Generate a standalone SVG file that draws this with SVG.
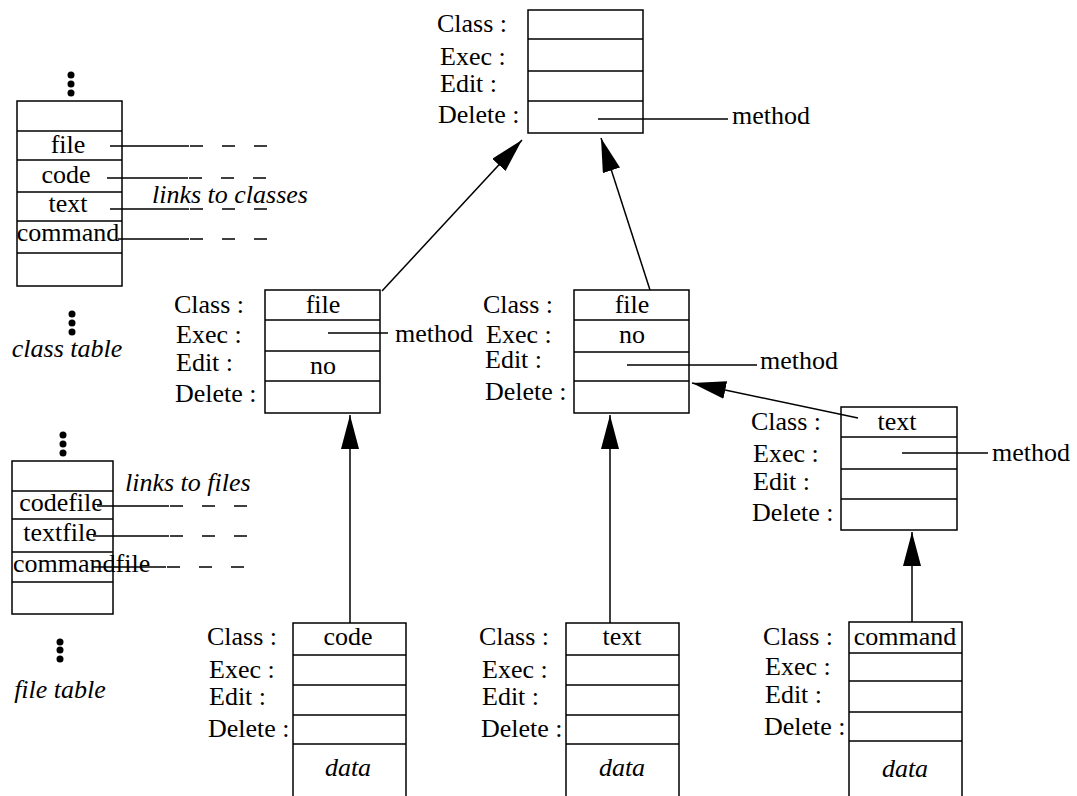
<svg xmlns="http://www.w3.org/2000/svg" width="1077" height="796" viewBox="0 0 1077 796" font-family="'Liberation Serif', 'Times New Roman', serif">
<style>
text{font-family:'Liberation Serif','Times New Roman',serif;font-size:26px;fill:#000}
.it{font-style:italic}
.c{text-anchor:middle}
.box{fill:none;stroke:#000;stroke-width:1.5}
.ln{stroke:#000;stroke-width:1.5;fill:none}
.dash{stroke:#000;stroke-width:1.5;stroke-dasharray:13 19}
.dot{fill:#000}
</style>
<defs>
<marker id="ah" viewBox="0 0 34 18" refX="34" refY="9" markerWidth="34" markerHeight="18" markerUnits="userSpaceOnUse" orient="auto">
<path d="M0,0 L34,9 L0,18 z" fill="#000"/>
</marker>
</defs>
<rect width="1077" height="796" fill="#fff"/>

<g id="class-table">
<circle class="dot" cx="71" cy="75" r="3.5"/><circle class="dot" cx="71" cy="84" r="3.5"/><circle class="dot" cx="71" cy="93" r="3.5"/>
<rect class="box" x="17" y="101" width="105" height="185"/>
<path class="ln" d="M17,131H122M17,160H122M17,192H122M17,221H122M17,253H122"/>
<text class="c" x="68" y="153">file</text>
<text class="c" x="66" y="183">code</text>
<text class="c" x="68" y="212">text</text>
<text class="c" x="68" y="241">command</text>
<circle class="dot" cx="72" cy="314" r="3.5"/><circle class="dot" cx="72" cy="323" r="3.5"/><circle class="dot" cx="72" cy="332" r="3.5"/>
<text class="it c" x="67" y="357">class table</text>
<text class="it" x="152" y="203">links to classes</text>
<path class="ln" d="M110,146H189M107,178H188M110,209H189M118,239H189"/>
<path class="dash" d="M190,146H270M189,178H269M190,209H270M190,239H270"/>
</g>

<g id="file-table">
<circle class="dot" cx="63" cy="435" r="3.5"/><circle class="dot" cx="63" cy="444" r="3.5"/><circle class="dot" cx="63" cy="453" r="3.5"/>
<rect class="box" x="12" y="461" width="101" height="153"/>
<path class="ln" d="M12,491H113M12,519H113M12,552H113M12,582H113"/>
<text class="c" x="61" y="511">codefile</text>
<text class="c" x="60" y="541">textfile</text>
<text x="13" y="572">commandfile</text>
<circle class="dot" cx="60" cy="642" r="3.5"/><circle class="dot" cx="60" cy="650" r="3.5"/><circle class="dot" cx="60" cy="659" r="3.5"/>
<text class="it c" x="60" y="698">file table</text>
<text class="it" x="125" y="491">links to files</text>
<path class="ln" d="M97,506H169M93,536H169M93,567H166"/>
<path class="dash" d="M170,506H250M170,536H250M167,567H250"/>
</g>

<g id="class-top">
<rect class="box" x="528" y="10" width="115" height="123"/>
<path class="ln" d="M528,39H643M528,71H643M528,101H643"/>
<text x="437" y="32">Class :</text>
<text x="440" y="65">Exec :</text>
<text x="440" y="92">Edit :</text>
<text x="438" y="123">Delete :</text>
<path class="ln" d="M598,119H728"/>
<text x="732" y="124">method</text>
</g>

<g id="class-file-left">
<rect class="box" x="265" y="290" width="115" height="123"/>
<path class="ln" d="M265,320H380M265,351H380M265,381H380"/>
<text x="174" y="313">Class :</text>
<text x="176" y="343">Exec :</text>
<text x="176" y="371">Edit :</text>
<text x="175" y="402">Delete :</text>
<text class="c" x="323" y="313">file</text>
<text class="c" x="323" y="374">no</text>
<path class="ln" d="M328,333H388"/>
<text x="395" y="342">method</text>
</g>

<g id="class-file-mid">
<rect class="box" x="574" y="290" width="115" height="123"/>
<path class="ln" d="M574,320H689M574,352H689M574,381H689"/>
<text x="483" y="313">Class :</text>
<text x="486" y="343">Exec :</text>
<text x="485" y="368">Edit :</text>
<text x="485" y="400">Delete :</text>
<text class="c" x="632" y="313">file</text>
<text class="c" x="632" y="343">no</text>
<path class="ln" d="M627,365H757"/>
<text x="760" y="369">method</text>
</g>

<g id="class-text">
<rect class="box" x="841" y="407" width="116" height="123"/>
<path class="ln" d="M841,437H957M841,469H957M841,499H957"/>
<text x="751" y="430">Class :</text>
<text x="753" y="462">Exec :</text>
<text x="753" y="490">Edit :</text>
<text x="752" y="521">Delete :</text>
<text class="c" x="897" y="430">text</text>
<path class="ln" d="M902,453H988"/>
<text x="992" y="461">method</text>
</g>

<g id="file-code">
<path class="ln" d="M293,796V623H406V796M293,655H406M293,685H406M293,715H406M293,744H406"/>
<text x="207" y="645">Class :</text>
<text x="209" y="678">Exec :</text>
<text x="209" y="705">Edit :</text>
<text x="208" y="737">Delete :</text>
<text class="c" x="348" y="645">code</text>
<text class="it c" x="348" y="776">data</text>
</g>

<g id="file-text">
<path class="ln" d="M566,796V623H679V796M566,655H679M566,685H679M566,715H679M566,744H679"/>
<text x="479" y="645">Class :</text>
<text x="482" y="678">Exec :</text>
<text x="482" y="705">Edit :</text>
<text x="481" y="737">Delete :</text>
<text class="c" x="622" y="645">text</text>
<text class="it c" x="622" y="776">data</text>
</g>

<g id="file-command">
<path class="ln" d="M849,796V622H962V796M849,653H962M849,681H962M849,712H962M849,741H962"/>
<text x="763" y="645">Class :</text>
<text x="765" y="675">Exec :</text>
<text x="765" y="703">Edit :</text>
<text x="764" y="735">Delete :</text>
<text class="c" x="905" y="645">command</text>
<text class="it c" x="905" y="777">data</text>
</g>

<g id="connectors">
<line class="ln" x1="382" y1="291" x2="522" y2="140" marker-end="url(#ah)"/>
<line class="ln" x1="650" y1="290" x2="601" y2="138" marker-end="url(#ah)"/>
<line class="ln" x1="858" y1="418" x2="692" y2="383" marker-end="url(#ah)"/>
<line class="ln" x1="350" y1="623" x2="350" y2="415" marker-end="url(#ah)"/>
<line class="ln" x1="610" y1="623" x2="610" y2="415" marker-end="url(#ah)"/>
<line class="ln" x1="912" y1="622" x2="912" y2="532" marker-end="url(#ah)"/>
</g>
</svg>
